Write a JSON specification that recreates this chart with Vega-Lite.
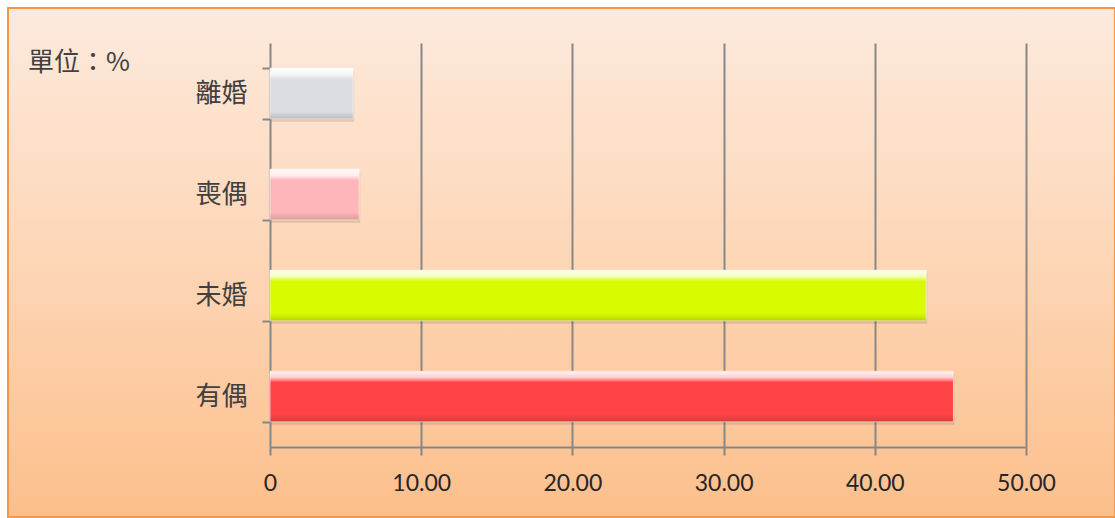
{
  "$schema": "https://vega.github.io/schema/vega-lite/v6.json",
  "width": 1107,
  "height": 509,
  "autosize": "none",
  "padding": {"left": 8, "top": 8, "right": 0, "bottom": 1},
  "background": "#ffffff",
  "title": {
    "text": "單位：%",
    "anchor": "start",
    "frame": "group",
    "orient": "top",
    "offset": 0,
    "baseline": "middle",
    "dx": 20,
    "dy": 94,
    "font": "Noto Sans CJK TC",
    "fontSize": 26,
    "fontWeight": "normal",
    "color": "#404040"
  },
  "config": {
    "view": {
      "fill": {
        "gradient": "linear",
        "x1": 0, "y1": 0, "x2": 0, "y2": 1,
        "stops": [
          {"offset": 0, "color": "#FDEADD"},
          {"offset": 0.5, "color": "#FDD6B6"},
          {"offset": 1, "color": "#FCBF8B"}
        ]
      },
      "stroke": "#F79646",
      "strokeWidth": 2
    }
  },
  "data": {
    "values": [
      {"status": "有偶", "pct": 45.2},
      {"status": "未婚", "pct": 43.4},
      {"status": "喪偶", "pct": 5.9},
      {"status": "離婚", "pct": 5.5}
    ]
  },
  "encoding": {
    "y": {
      "field": "status",
      "type": "nominal",
      "sort": ["離婚", "喪偶", "未婚", "有偶"],
      "scale": {"range": [35, 439], "paddingInner": 0.5, "paddingOuter": 0.25},
      "axis": {
        "title": null,
        "offset": -262,
        "tickBand": "extent",
        "grid": false,
        "domainColor": "#878787",
        "domainWidth": 2,
        "tickColor": "#878787",
        "tickWidth": 2,
        "tickSize": 8,
        "labelPadding": 15,
        "labelFont": "Noto Sans CJK TC",
        "labelFontSize": 26,
        "labelColor": "#404040"
      }
    }
  },
  "layer": [
    {
      "mark": {"type": "bar", "fill": "#7A4A28", "opacity": 0.18, "yOffset": 3, "xOffset": 1},
      "encoding": {
        "x": {
          "field": "pct",
          "type": "quantitative",
          "scale": {"domain": [0, 50], "range": [262, 1018], "nice": false, "zero": true},
          "axis": null
        }
      }
    },
    {
      "mark": {"type": "bar", "stroke": "#FFFFFF", "strokeOpacity": 0.6, "strokeWidth": 1},
      "encoding": {
        "x": {
          "field": "pct",
          "type": "quantitative",
          "scale": {"domain": [0, 50], "range": [262, 1018], "nice": false, "zero": true},
          "axis": {
            "orient": "bottom",
            "title": null,
            "offset": -70,
            "values": [0, 10, 20, 30, 40, 50],
            "grid": false,
            "domainColor": "#878787",
            "domainWidth": 2,
            "tickColor": "#878787",
            "tickWidth": 2,
            "tickSize": 8,
            "labelFlush": false,
            "labelPadding": 17,
            "labelFont": "Lato",
            "labelFontSize": 23,
            "labelColor": "#262626",
            "labelExpr": "datum.value === 0 ? '0' : format(datum.value, '.2f')"
          }
        },
        "color": {
          "field": "status",
          "type": "nominal",
          "scale": {
            "domain": ["有偶", "未婚", "喪偶", "離婚"],
            "range": ["#FF4447", "#D8FB00", "#FFB6BA", "#DCDDE2"]
          },
          "legend": null
        }
      }
    },
    {
      "mark": {
        "type": "bar",
        "fill": {
          "gradient": "linear",
          "x1": 0, "y1": 0, "x2": 0, "y2": 1,
          "stops": [
            {"offset": 0, "color": "rgba(255,255,255,0.95)"},
            {"offset": 0.12, "color": "rgba(255,255,255,0.75)"},
            {"offset": 0.22, "color": "rgba(255,255,255,0)"},
            {"offset": 0.85, "color": "rgba(0,0,0,0)"},
            {"offset": 1, "color": "rgba(0,0,0,0.14)"}
          ]
        }
      },
      "encoding": {
        "x": {
          "field": "pct",
          "type": "quantitative",
          "scale": {"domain": [0, 50], "range": [262, 1018], "nice": false, "zero": true},
          "axis": {
            "orient": "top",
            "title": null,
            "offset": -35,
            "values": [10, 20, 30, 40, 50],
            "grid": false,
            "domain": false,
            "labels": false,
            "tickColor": "#878787",
            "tickWidth": 2,
            "tickSize": -404
          }
        }
      }
    }
  ],
  "resolve": {"axis": {"x": "independent"}}
}
